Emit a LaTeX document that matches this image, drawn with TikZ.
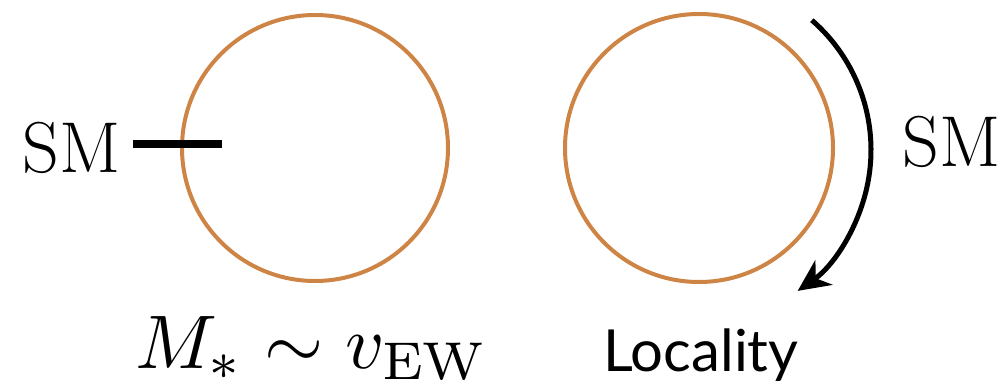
\documentclass[tikz,border=0pt]{standalone}
\usepackage{graphicx}
\usepackage{fontspec}
\newfontfamily\gillfont{Lato}
\usetikzlibrary{arrows.meta}
\definecolor{ringcol}{RGB}{206,132,68}
\tikzset{
  ring/.style={circle, draw=ringcol, line width=4pt, inner sep=0pt},
  smlabel/.style={inner sep=0pt, font=\fontsize{72}{74}\selectfont},
  bar/.style={line width=8pt},
  flowarrow/.style={line width=5pt, -{Stealth[length=32pt,width=30pt,inset=10pt]}}
}
\begin{document}
\begin{tikzpicture}[x=1pt,y=1pt]
\useasboundingbox (0,0) rectangle (1007,385);
% circles
\node[ring, minimum size=266pt] (c1) at (315,237) {};
\node[ring, minimum size=268pt] (c2) at (699,237) {};
% left SM with bar
\node[smlabel, anchor=east] (smL) at (121,237.5) {SM};
\coordinate (barEnd) at (222,241);
\draw[bar] ([xshift=12pt]smL.east |- barEnd) -- (barEnd);
% right arrow
\draw[flowarrow] ([shift={(0,-2)}]c2.center) ++(49:172) arc[start angle=49, end angle=-55, radius=172];
\node[smlabel, anchor=west] (smR) at (902,243) {SM};
% bottom labels
\node[inner sep=0pt, anchor=base west] (mass) at (135,16.5) {\scalebox{7.6}{$M_* \sim v_{\mathrm{EW}}$}};
\node[inner sep=0pt, anchor=base west, font=\gillfont\fontsize{58}{60}\selectfont] (loc) at (603,13) {Locality};
\end{tikzpicture}
\end{document}
